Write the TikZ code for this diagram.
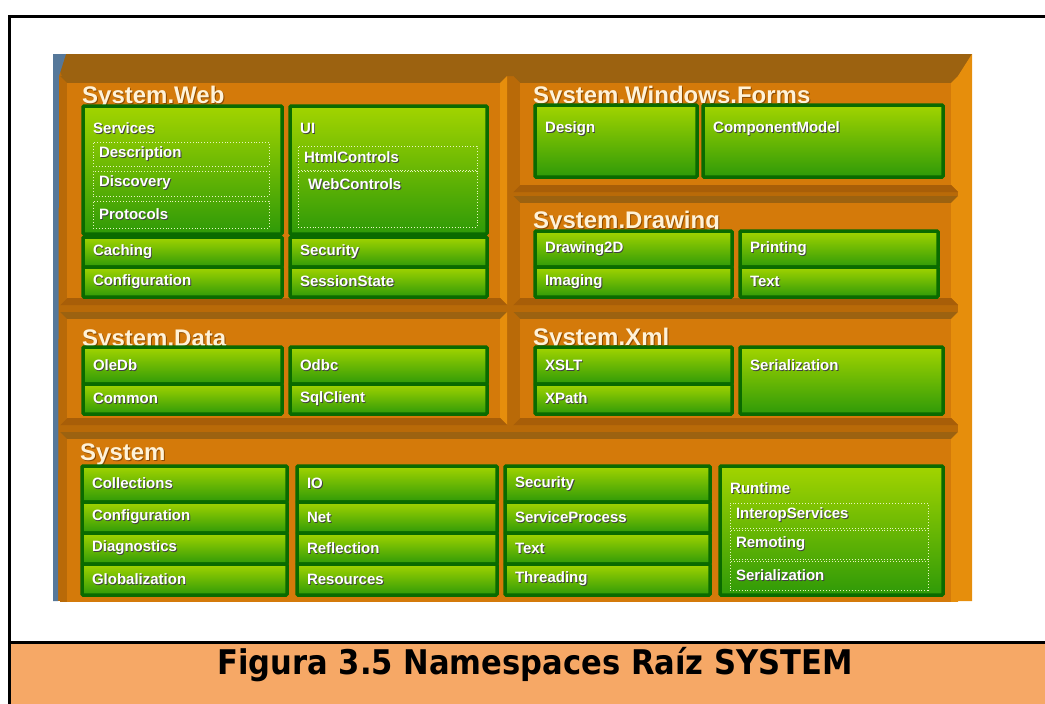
\documentclass[tikz,border=0pt]{standalone}
\usepackage{fontspec}
\setmainfont{Liberation Sans}
\newfontfamily\capfont[FakeStretch=0.9]{DejaVu Sans}
\usepackage{tikz}
\usetikzlibrary{positioning}

\definecolor{orface}{HTML}{D47A0A}
\definecolor{orbase}{HTML}{B96A08}
\definecolor{ortop}{HTML}{9C6210}
\definecolor{orside}{HTML}{E68E0C}
\definecolor{orlow}{HTML}{A85E08}
\definecolor{edgeblue}{HTML}{56789A}
\definecolor{gdark}{HTML}{0A6A00}
\definecolor{gtop}{HTML}{A2D400}
\definecolor{gbot}{HTML}{2F9A08}
\definecolor{titlecol}{HTML}{FFF2D8}
\definecolor{titleshd}{HTML}{8A4A00}
\definecolor{capband}{HTML}{F6A866}

\newcommand\shd[1]{\rlap{\textcolor{black!75}{\hspace{0.9pt}\raisebox{-0.9pt}{#1}}}#1}
\newcommand\tshd[1]{\rlap{\textcolor{titleshd}{\hspace{1pt}\raisebox{-1pt}{#1}}}#1}

\tikzset{
  txt/.style={font=\bfseries\fontsize{15}{17}\selectfont, text=white},
  title/.style={font=\bfseries\fontsize{24}{26}\selectfont, text=titlecol, anchor=base west, inner sep=0pt},
  gbox/.style={draw=gdark, line width=3.5pt, top color=gtop, bottom color=gbot, rounded corners=1pt,
    anchor=north west, outer sep=0pt, inner xsep=10pt, inner ysep=0pt, align=left, txt},
  sub/.style={draw=white!75!gtop, dotted, line width=0.9pt, anchor=north west, outer sep=0pt,
    inner xsep=6pt, inner ysep=0pt, align=left, txt},
  lbl/.style={txt, anchor=base west, inner sep=0pt, label distance=0pt, xshift=10pt, yshift=-27.5pt}
}

\begin{document}
\begin{tikzpicture}[x=1pt,y=-1pt]
  \useasboundingbox (0,0) rectangle (1045,704);

  % frame of the figure and caption band
  \fill[capband] (9,642) rectangle (1045,704);
  \draw[line width=3pt] (9,704) -- (9,16) -- (1045,16);
  \draw[line width=3pt] (9,642) -- (1045,642);
  \node[font=\capfont\bfseries\fontsize{34}{36}\selectfont, anchor=base] (caption) at (535,674) {Figura 3.5 Namespaces Raíz SYSTEM};

  % the orange block
  \fill[orbase] (53,54) rectangle (972,601);
  \fill[ortop] (53,54) -- (972,54) -- (958,76) -- (62,76) -- cycle; % top face
  \fill[orside] (972,54) -- (972,601) -- (958,601) -- (958,76) -- cycle; % right face
  \fill[edgeblue] (53,54) -- (66,54) -- (59,76) -- (58,601) -- (53,601) -- cycle; % left edge
  \begin{scope}
    \clip (53,54) rectangle (958,601);
    \foreach \xa/\ya/\xb/\yb in {60/76/507/305, 513/76/958/192, 513/196/958/305, 60/312/507/425, 513/312/958/425, 60/432/958/612}{
      \fill[ortop] (\xa,\ya) -- (\xb,\ya) -- (\xb-7,\ya+7) -- (\xa+7,\ya+7) -- cycle;
      \fill[orside] (\xb,\ya) -- (\xb,\yb) -- (\xb-7,\yb-7) -- (\xb-7,\ya+7) -- cycle;
      \fill[orlow] (\xa,\yb) -- (\xb,\yb) -- (\xb-7,\yb-7) -- (\xa+7,\yb-7) -- cycle;
      \fill[orbase] (\xa,\ya) -- (\xa+7,\ya+7) -- (\xa+7,\yb-7) -- (\xa,\yb) -- cycle;
      \fill[orface] (\xa+7,\ya+7) rectangle (\xb-7,\yb-7);
    }
  \end{scope}

  % System.Web
  \node[title] (t-web) at (82,103) {\tshd{System.Web}};
  \node[gbox, minimum width=199pt, minimum height=128pt, label={[lbl]north west:\shd{Services}}] (services) at (83,106) {};
  \node[sub, text width=164pt, minimum height=24pt] (description) at (93,142) {\shd{Description}};
  \node[sub, text width=164pt, minimum height=25pt] (discovery) at (93,171) {\shd{Discovery}};
  \node[sub, text width=164pt, minimum height=27pt] (protocols) at (93,201) {\shd{Protocols}};
  \node[gbox, minimum width=197pt, minimum height=128pt, label={[lbl]north west:\shd{UI}}] (ui) at (290,106) {};
  \node[sub, text width=167pt, minimum height=24pt] (htmlcontrols) at (298,146) {\shd{HtmlControls}};
  \node[sub, minimum width=179pt, minimum height=56pt, label={[lbl, yshift=9pt]north west:\shd{WebControls}}] (webcontrols) at (298,171) {};
  \node[gbox, text width=179pt, minimum height=30pt] (caching) at (83,237) {\shd{Caching}};
  \node[gbox, text width=179pt, minimum height=30pt] (web-config) at (83,267) {\shd{Configuration}};
  \node[gbox, text width=177pt, minimum height=30pt] (web-security) at (290,237) {\shd{Security}};
  \node[gbox, text width=177pt, minimum height=30pt] (sessionstate) at (290,267) {\shd{SessionState}};

  % System.Windows.Forms
  \node[title] (t-forms) at (533,103) {\tshd{System.Windows.Forms}};
  \node[gbox, minimum width=162pt, minimum height=72pt, label={[lbl]north west:\shd{Design}}] (design) at (535,105) {};
  \node[gbox, minimum width=240pt, minimum height=72pt, label={[lbl]north west:\shd{ComponentModel}}] (componentmodel) at (703,105) {};

  % System.Drawing
  \node[title] (t-drawing) at (533,228) {\tshd{System.Drawing}};
  \node[gbox, text width=177pt, minimum height=36pt] (drawing2d) at (535,231) {\shd{Drawing2D}};
  \node[gbox, text width=177pt, minimum height=30pt] (imaging) at (535,267) {\shd{Imaging}};
  \node[gbox, text width=178pt, minimum height=36pt] (printing) at (740,231) {\shd{Printing}};
  \node[gbox, text width=178pt, minimum height=30pt] (draw-text) at (740,267) {\shd{Text}};

  % System.Data
  \node[title] (t-data) at (82,346) {\tshd{System.Data}};
  \node[gbox, text width=179pt, minimum height=37pt] (oledb) at (83,347) {\shd{OleDb}};
  \node[gbox, text width=179pt, minimum height=30pt] (common) at (83,384) {\shd{Common}};
  \node[gbox, text width=177pt, minimum height=37pt] (odbc) at (290,347) {\shd{Odbc}};
  \node[gbox, text width=177pt, minimum height=30pt] (sqlclient) at (290,384) {\shd{SqlClient}};

  % System.Xml
  \node[title] (t-xml) at (533,345) {\tshd{System.Xml}};
  \node[gbox, text width=177pt, minimum height=37pt] (xslt) at (535,347) {\shd{XSLT}};
  \node[gbox, text width=177pt, minimum height=30pt] (xpath) at (535,384) {\shd{XPath}};
  \node[gbox, minimum width=203pt, minimum height=67pt, label={[lbl, yshift=4pt]north west:\shd{Serialization}}] (xml-serial) at (740,347) {};

  % System
  \node[title] (t-system) at (80,460) {\tshd{System}};
  \node[gbox, text width=185pt, minimum height=36pt] (collections) at (82,466) {\shd{Collections}};
  \node[gbox, text width=185pt, minimum height=31pt] (sys-config) at (82,502) {\shd{Configuration}};
  \node[gbox, text width=185pt, minimum height=31pt] (diagnostics) at (82,533) {\shd{Diagnostics}};
  \node[gbox, text width=185pt, minimum height=31pt] (globalization) at (82,564) {\shd{Globalization}};
  \node[gbox, text width=180pt, minimum height=36pt] (io) at (297,466) {\shd{IO}};
  \node[gbox, text width=180pt, minimum height=31pt] (net) at (297,502) {\shd{Net}};
  \node[gbox, text width=180pt, minimum height=31pt] (reflection) at (297,533) {\shd{Reflection}};
  \node[gbox, text width=180pt, minimum height=31pt] (resources) at (297,564) {\shd{Resources}};
  \node[gbox, text width=185pt, minimum height=36pt] (sys-security) at (505,466) {\shd{Security}};
  \node[gbox, text width=185pt, minimum height=31pt] (serviceprocess) at (505,502) {\shd{ServiceProcess}};
  \node[gbox, text width=185pt, minimum height=31pt] (sys-text) at (505,533) {\shd{Text}};
  \node[gbox, text width=185pt, minimum height=31pt] (threading) at (505,564) {\shd{Threading}};
  \node[gbox, minimum width=223pt, minimum height=129pt, label={[lbl]north west:\shd{Runtime}}] (runtime) at (720,466) {};
  \node[sub, text width=186pt, minimum height=25pt] (interop) at (730,503) {\shd{InteropServices}};
  \node[sub, text width=186pt, minimum height=29pt] (remoting) at (730,530) {\shd{Remoting}};
  \node[sub, text width=186pt, minimum height=29pt] (rt-serial) at (730,561) {\shd{Serialization}};
\end{tikzpicture}
\end{document}
